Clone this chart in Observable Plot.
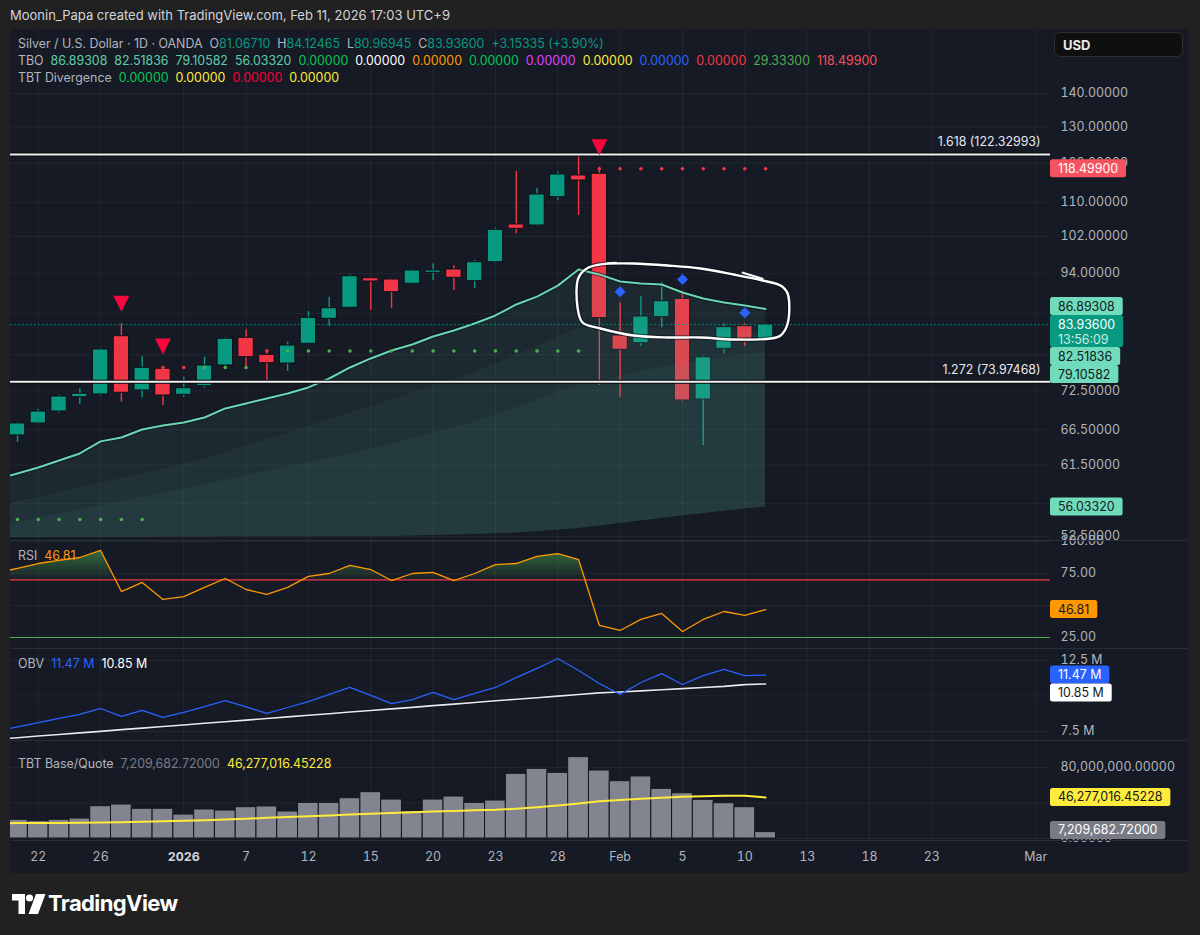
<!DOCTYPE html>
<html>
<head>
<meta charset="utf-8">
<script src="https://cdn.jsdelivr.net/npm/d3@7"></script>
<script src="https://cdn.jsdelivr.net/npm/@observablehq/plot@0.6"></script>
<style>
  html, body { margin:0; padding:0; }
  body { width:1200px; height:935px; background:#212121; position:relative; overflow:hidden; font-family: Inter, "Noto Sans", Roboto, sans-serif; }
  .abs { position:absolute; }
  #frame { left:10px; top:29px; width:1178px; height:844px; background:#161a25; }
  .sep { position:absolute; left:10px; width:1178px; height:1px; background:#2a2e39; }
  .leg { position:absolute; left:18px; font-size:12.4px; line-height:16px; color:#b2b5be; white-space:nowrap; }
  .leg i { font-style:normal; margin-left:7px; }
  .leg i:first-child { margin-left:0; }
  .leg b { font-weight:normal; }
  .pane { position:absolute; left:10px; }
  .pane svg { overflow:visible; display:block; }
</style>
</head>
<body>
<div class="abs" style="left:10px;top:7px;font-size:13px;line-height:16px;color:#d1d4dc;">Moonin_Papa created with TradingView.com, Feb 11, 2026 17:03 UTC+9</div>
<div class="abs" id="frame"></div>
<div class="pane" id="pPrice" style="top:29px"></div>
<div class="pane" id="pRsi" style="top:540px"></div>
<div class="pane" id="pObv" style="top:648px"></div>
<div class="pane" id="pVol" style="top:740px"></div>
<div class="sep" style="top:540px"></div>
<div class="sep" style="top:648px"></div>
<div class="sep" style="top:740px"></div>
<div class="sep" style="top:840px"></div>

<div class="leg" style="top:36px"><i>Silver / U.S. Dollar · 1D · OANDA</i><i>O<b style="color:#089981">81.06710</b></i><i>H<b style="color:#089981">84.12465</b></i><i>L<b style="color:#089981">80.96945</b></i><i>C<b style="color:#089981">83.93600</b></i><i style="color:#089981">+3.15335 (+3.90%)</i></div>
<div class="leg" style="top:53px"><i>TBO</i><i style="color:#5ccfa8">86.89308</i><i style="color:#5ccfa8">82.51836</i><i style="color:#5ccfa8">79.10582</i><i style="color:#5ccfa8">56.03320</i><i style="color:#00c853">0.00000</i><i style="color:#ffffff">0.00000</i><i style="color:#ff9800">0.00000</i><i style="color:#00c853">0.00000</i><i style="color:#e040fb">0.00000</i><i style="color:#ffeb3b">0.00000</i><i style="color:#2962ff">0.00000</i><i style="color:#f23645">0.00000</i><i style="color:#4caf50">29.33300</i><i style="color:#f7525f">118.49900</i></div>
<div class="leg" style="top:70px"><i>TBT Divergence</i><i style="color:#00c853">0.00000</i><i style="color:#ffeb3b">0.00000</i><i style="color:#f7003a">0.00000</i><i style="color:#ffeb3b">0.00000</i></div>
<div class="leg" style="top:548px"><i>RSI</i><i style="color:#ff9800">46.81</i></div>
<div class="leg" style="top:656px"><i>OBV</i><i style="color:#2962ff">11.47 M</i><i style="color:#ffffff">10.85 M</i></div>
<div class="leg" style="top:756px"><i>TBT Base/Quote</i><i style="color:#787b86">7,209,682.72000</i><i style="color:#ffeb3b">46,277,016.45228</i></div>

<div class="abs" style="left:1054px;top:32px;width:129px;height:25px;background:#0f0f0f;border:1px solid #2e2e2e;border-radius:6px;box-sizing:border-box;"></div>
<div class="abs" style="left:1063px;top:37px;font-size:13px;line-height:16px;font-weight:700;color:#e8e8e8;">USD</div>

<div class="abs" style="left:12px;top:893px;">
  <svg width="34" height="22" viewBox="0 0 34 22"><path d="M0 1h13v20H6.5V7.5H0z" fill="#fff"/><circle cx="17.5" cy="5" r="3.6" fill="#fff"/><path d="M24 1h9.5l-7.5 20h-9.5z" fill="#fff"/></svg>
</div>
<div class="abs" style="left:48px;top:889px;font-size:22px;line-height:28px;font-weight:700;color:#ffffff;letter-spacing:-0.6px;">TradingView</div>

<script>
// ---------------- DATA ----------------
const dates = ["2025-12-19","2025-12-22","2025-12-23","2025-12-24","2025-12-26","2025-12-29","2025-12-30","2025-12-31","2026-01-02","2026-01-05","2026-01-06","2026-01-07","2026-01-08","2026-01-09","2026-01-12","2026-01-13","2026-01-14","2026-01-15","2026-01-16","2026-01-19","2026-01-20","2026-01-21","2026-01-22","2026-01-23","2026-01-26","2026-01-27","2026-01-28","2026-01-29","2026-01-30","2026-02-02","2026-02-03","2026-02-04","2026-02-05","2026-02-06","2026-02-09","2026-02-10","2026-02-11"];
const opens  = [65.66,67.43,69.24,71.47,71.90,81.80,72.54,76.11,71.85,73.23,76.67,81.51,78.50,77.00,80.44,85.01,87.11,93.01,92.74,91.86,94.13,94.82,92.40,96.36,104.75,104.52,111.28,116.76,117.20,81.93,80.54,85.32,88.86,71.11,79.55,83.63,81.0671];
const highs  = [67.58,69.55,71.82,72.81,79.60,84.08,78.21,76.50,74.71,78.08,81.50,82.97,79.38,80.72,86.40,89.18,93.71,93.20,92.90,94.80,96.02,95.66,96.73,103.90,117.87,113.52,117.61,121.77,118.90,88.08,89.32,92.19,90.51,78.30,84.08,84.08,84.12465];
const lows   = [64.65,67.30,69.00,70.32,71.70,70.68,71.37,70.17,71.47,72.91,76.40,76.38,73.88,75.65,80.30,83.58,87.00,86.59,86.92,91.70,92.54,90.51,90.85,96.20,102.62,104.30,110.47,106.86,73.35,71.47,80.01,83.34,70.70,64.22,78.68,79.96,80.96945];
const closes = [67.43,69.24,71.58,72.01,79.43,72.17,76.28,71.74,72.91,76.67,81.33,78.08,77.06,80.13,85.20,87.03,93.42,92.33,90.17,94.61,94.61,93.09,96.36,103.53,103.76,111.95,117.02,115.47,85.13,79.38,85.45,88.39,70.95,78.08,83.45,80.78,83.936];

// TBO lines (first value is the lead-in bar just left of the first visible candle)
const tboFast  = [59.6,60.36,61.16,62.12,63.10,64.81,65.37,66.53,67.13,67.57,68.33,69.71,70.48,71.27,72.06,73.03,74.49,76.33,77.87,79.26,80.32,81.75,82.84,84.14,85.64,87.75,89.3,91.5,94.82,93.79,92.33,91.92,91.71,90.12,88.93,88.14,87.56,86.89308];
const tboMed   = [56.03,56.69,57.28,57.88,58.48,59.10,59.71,60.34,60.97,61.61,62.31,63.22,64.14,65.08,66.04,67.01,68.00,68.99,70.00,71.04,72.14,73.25,74.36,75.50,76.92,78.47,80.05,81.66,83.21,83.30,83.39,83.25,83.12,82.98,82.83,82.72,82.60,82.51836];
const tboSlow  = [53.6,54.20,54.71,55.21,55.73,56.23,56.76,57.28,57.81,58.34,58.89,59.46,60.04,60.63,61.23,61.83,62.43,63.04,63.66,64.37,65.17,65.98,66.81,67.64,68.70,69.85,71.01,72.20,73.38,74.11,74.86,75.59,76.35,76.97,77.49,78.02,78.56,79.10582];
const tboVslow = [52.38,52.39,52.40,52.41,52.41,52.42,52.43,52.43,52.44,52.45,52.45,52.46,52.47,52.47,52.48,52.48,52.49,52.50,52.50,52.51,52.57,52.62,52.68,52.73,52.81,52.90,53.05,53.24,53.45,53.75,54.04,54.34,54.63,54.93,55.22,55.52,55.81,56.03320];

// TBO trailing dots
const greenDotSlots  = [0,1,2,3,4,5,6,9,10,11,13,14,15,16,17,18,19,20,21,22,23,24,25,26,27];
const greenDotLevels = [54.52,54.52,54.52,54.52,54.52,54.52,54.52,76.33,76.33,76.33,79.16,79.16,79.16,79.16,79.16,79.16,79.16,79.16,79.16,79.16,79.16,79.16,79.16,79.16,79.16];
const redDotSlots  = [7,8,12,28,29,30,31,32,33,34,35,36];
const redDotLevels = [76.33,76.33,79.16,118.499,118.499,118.499,118.499,118.499,118.499,118.499,118.499,118.499];

// signal markers
const triangleSlots = [5,7,28];
const diamondSlots  = [29,32,35];

// Fibonacci levels
const fibLevels = [122.32993, 73.97468];
const fibLabels = ["1.618 (122.32993)", "1.272 (73.97468)"];

// hand-drawn ellipse (slot, price)
const ellipseSlots  = [28.39,29.64,31.28,32.87,34.46,35.85,36.72,37.06,37.06,36.72,36.24,34.46,32.87,31.28,29.64,28.06,27.19,26.95,27.0,27.48,28.39,28.8];
const ellipsePrices = [96.09,96.09,95.66,95.03,93.77,92.54,91.52,89.91,84.13,81.93,81.39,81.21,81.57,81.57,81.93,83.21,84.32,87.17,93.15,95.24,96.09,96.2];
const hookSlots  = [34.9,35.85];
const hookPrices = [94.15,92.9];

// RSI (lead-in + 37)
const rsiVals = [75.4,79.0,82.8,85.2,87.5,93.0,60.9,68.0,54.7,57.0,64.1,71.1,62.5,58.6,64.1,72.7,75.0,81.3,78.1,69.5,75.0,75.8,69.5,75.0,82.0,82.8,88.3,90.6,85.9,34.4,30.5,39.1,43.8,29.7,39.1,45.3,42.2,46.81];
const rsiUpper = 70, rsiLower = 25;

// OBV in millions (lead-in + 37)
const obvVals = [7.53,7.82,8.13,8.42,8.70,9.12,8.56,8.98,8.49,8.84,9.26,9.68,9.23,8.77,9.19,9.61,10.11,10.60,10.04,9.47,9.75,10.25,9.75,10.18,10.60,11.30,11.94,12.64,11.80,10.88,10.11,10.95,11.58,10.81,11.44,11.87,11.44,11.47];
const obvMA   = [6.95,7.06,7.18,7.29,7.40,7.51,7.63,7.74,7.85,7.96,8.08,8.19,8.30,8.42,8.53,8.64,8.75,8.87,8.98,9.09,9.20,9.32,9.43,9.54,9.66,9.77,9.88,9.99,10.11,10.22,10.28,10.36,10.44,10.52,10.60,10.68,10.80,10.85];

// Base/Quote volume in millions
const volVals = [21.1,19.5,21.1,22.5,36.4,38.3,33.5,33.5,27.0,32.7,31.5,35.3,36.1,30.4,40.2,40.2,45.4,52.2,43.9,30.8,43.9,47.3,40.2,42.8,72.9,78.5,74.0,91.6,76.6,64.6,69.9,56.0,51.0,43.6,39.8,35.3,7.20968272];
const volMA   = [17.1,17.35,17.5,17.6,17.7,18.0,18.25,18.8,19.4,20.0,20.7,21.4,22.2,23.3,24.2,25.1,26.0,27.0,27.9,28.7,29.5,30.3,31.1,31.8,32.3,33.6,35.2,37.2,39.4,41.9,43.4,44.7,45.9,47.0,47.7,48.1,48.1,46.27701645228];

// axes (grid levels; labelled levels are the ones not hidden behind value tags)
const tickSlots  = [1,4,8,11,14,17,20,23,26,29,32,35,38,41,44,49];
const tickLabels = ["22","26","2026","7","12","15","20","23","28","Feb","5","10","13","18","23","Mar"];
const priceGrid  = [140,130,120,110,102,94,86,78.5,72.5,66.5,61.5,56.5,52.5];
const priceTicks = [140,130,120,110,102,94,72.5,66.5,61.5,52.5];
const rsiGrid  = [100,75,50,25];
const rsiTicks = [100,75,25];
const obvGrid  = [12.5,10,7.5];
const obvTicks = [12.5,7.5];
const volGrid  = [80,40,0];
const volTicks = [80,0];

// ---------------- CHART ----------------
const FONT = 'Inter, "Noto Sans", Roboto, sans-serif';
const W = 1178, MR = 138;
const xDomain = [-0.337, 49.71];
const UP = "#089981", DN = "#f23645";
const GRID = {stroke:"#ffffff", strokeOpacity:0.055};
const style = {background:"transparent", color:"#b2b5be", fontSize:"12.4px", fontFamily:FONT, overflow:"visible"};

const candles = dates.map((d,i) => ({slot:i, date:d, open:opens[i], high:highs[i], low:lows[i], close:closes[i], vol:volVals[i]}));
const tbo = tboFast.map((v,k) => ({slot:k-1, fast:v, med:tboMed[k], slow:tboSlow[k], vslow:tboVslow[k]}));
const greenDots = greenDotSlots.map((s,i) => ({slot:s, level:greenDotLevels[i]}));
const redDots = redDotSlots.map((s,i) => ({slot:s, level:redDotLevels[i]}));
const tri = candles.filter(d => triangleSlots.includes(d.slot));
const dia = candles.filter(d => diamondSlots.includes(d.slot));
const ellipse = ellipseSlots.map((s,i) => ({slot:s, price:ellipsePrices[i]}));
const hook = hookSlots.map((s,i) => ({slot:s, price:hookPrices[i]}));
const lastClose = closes[closes.length-1];

const downTri = {draw(ctx, size){ const r = Math.sqrt(size/Math.PI); ctx.moveTo(-r,-r); ctx.lineTo(r,-r); ctx.lineTo(0,r); ctx.closePath(); }};
const rhomb = {draw(ctx, size){ const r = Math.sqrt(size/Math.PI); ctx.moveTo(0,-r); ctx.lineTo(r,0); ctx.lineTo(0,r); ctx.lineTo(-r,0); ctx.closePath(); }};
const candleColor = d => d.close >= d.open ? UP : DN;

const pricePlot = Plot.plot({
  width:W, height:511, marginLeft:0, marginRight:MR, marginTop:0, marginBottom:0, style,
  x:{domain:xDomain, axis:null},
  y:{type:"log", domain:[52.04,161.3]},
  color:{type:"identity"},
  marks:[
    Plot.gridY(priceGrid, GRID),
    Plot.gridX(tickSlots, GRID),
    Plot.axisY(priceTicks, {anchor:"right", tickSize:0, tickPadding:10, tickFormat:d3.format(".5f"), label:null}),
    Plot.ruleX(candles, {x:"slot", y1:"low", y2:"high", stroke:candleColor, strokeWidth:1.4}),
    Plot.rect(candles, {x1:d=>d.slot-0.37, x2:d=>d.slot+0.37, y1:d=>Math.min(d.open,d.close), y2:d=>Math.max(d.open,d.close), fill:candleColor, stroke:"#0c0f16", strokeWidth:1, clip:true}),
    Plot.areaY(tbo, {x:"slot", y1:"vslow", y2:"fast", fill:"#55ad9c", fillOpacity:0.1, clip:true}),
    Plot.areaY(tbo, {x:"slot", y1:"vslow", y2:"med", fill:"#55ad9c", fillOpacity:0.07, clip:true}),
    Plot.areaY(tbo, {x:"slot", y1:"vslow", y2:"slow", fill:"#55ad9c", fillOpacity:0.07, clip:true}),
    Plot.lineY(tbo, {x:"slot", y:"fast", stroke:"#0a0d13", strokeWidth:4, strokeOpacity:0.55, clip:true}),
    Plot.lineY(tbo, {x:"slot", y:"fast", stroke:"#6ad6b4", strokeWidth:2, clip:true}),
    Plot.ruleY([lastClose], {stroke:UP, strokeWidth:1, strokeDasharray:"1.5,2.5"}),
    Plot.ruleY(fibLevels, {stroke:"#07090d", strokeWidth:4}),
    Plot.ruleY(fibLevels, {stroke:"#f0f0f0", strokeWidth:2}),
    Plot.text(fibLevels, {y:d=>d, text:(d,i)=>fibLabels[i], frameAnchor:"right", textAnchor:"end", dx:-10, dy:-12, fill:"#e6e8ee", fontSize:12.4}),
    Plot.dot(greenDots, {x:"slot", y:"level", r:1.8, fill:"#4caf50"}),
    Plot.dot(redDots, {x:"slot", y:"level", r:1.8, fill:"#f23645"}),
    Plot.dot(tri, {x:"slot", y:"high", symbol:downTri, r:8, fill:"#f7073d", dy:-20}),
    Plot.dot(dia, {x:"slot", y:"high", symbol:rhomb, r:5.5, fill:"#2962ff", dy:-11}),
    Plot.line(ellipse, {x:"slot", y:"price", curve:"catmull-rom", stroke:"#0a0d13", strokeWidth:4.5, strokeOpacity:0.6}),
    Plot.line(ellipse, {x:"slot", y:"price", curve:"catmull-rom", stroke:"#ffffff", strokeWidth:2.4}),
    Plot.line(hook, {x:"slot", y:"price", stroke:"#ffffff", strokeWidth:2.2})
  ]
});
document.getElementById("pPrice").appendChild(pricePlot);

// RSI fill polygon with crossing points at the upper band
const rsiPts = rsiVals.map((v,k) => ({slot:k-1, rsi:v}));
const rsiFill = [];
rsiPts.forEach((a,k) => {
  if (k > 0) {
    const b = rsiPts[k-1];
    if ((a.rsi-rsiUpper)*(b.rsi-rsiUpper) < 0) {
      const t = (rsiUpper-b.rsi)/(a.rsi-b.rsi);
      rsiFill.push({slot:b.slot + t*(a.slot-b.slot), top:rsiUpper});
    }
  }
  rsiFill.push({slot:a.slot, top:Math.max(a.rsi, rsiUpper)});
});

const rsiPlot = Plot.plot({
  width:W, height:108, marginLeft:0, marginRight:MR, marginTop:0, marginBottom:0, style,
  x:{domain:xDomain, axis:null},
  y:{domain:[16.4,100.78]},
  marks:[
    Plot.gridY(rsiGrid, GRID),
    Plot.gridX(tickSlots, GRID),
    Plot.axisY(rsiTicks, {anchor:"right", tickSize:0, tickPadding:10, tickFormat:d3.format(".2f"), label:null}),
    Plot.areaY(rsiFill, {x:"slot", y1:rsiUpper, y2:"top", fill:"url(#rsiGrad)", clip:true}),
    Plot.ruleY([rsiUpper], {stroke:"#f23645", strokeWidth:1.2}),
    Plot.ruleY([rsiLower], {stroke:"#4caf50", strokeWidth:1.2}),
    Plot.lineY(rsiPts, {x:"slot", y:"rsi", stroke:"#ff9800", strokeWidth:1.3, clip:true})
  ]
});
document.getElementById("pRsi").appendChild(rsiPlot);
d3.select(rsiPlot).insert("defs", ":first-child").html('<linearGradient id="rsiGrad" x1="0" y1="0" x2="0" y2="1"><stop offset="0" stop-color="#4caf50" stop-opacity="0.55"/><stop offset="1" stop-color="#4caf50" stop-opacity="0.03"/></linearGradient>');

const obvData = obvVals.map((v,k) => ({slot:k-1, obv:v, ma:obvMA[k]}));
const obvPlot = Plot.plot({
  width:W, height:92, marginLeft:0, marginRight:MR, marginTop:0, marginBottom:0, style,
  x:{domain:xDomain, axis:null},
  y:{domain:[6.866,13.345]},
  marks:[
    Plot.gridY(obvGrid, GRID),
    Plot.gridX(tickSlots, GRID),
    Plot.axisY(obvTicks, {anchor:"right", tickSize:0, tickPadding:10, tickFormat:d=>d+" M", label:null}),
    Plot.lineY(obvData, {x:"slot", y:"ma", stroke:"#0a0d13", strokeWidth:3.2, strokeOpacity:0.6, clip:true}),
    Plot.lineY(obvData, {x:"slot", y:"ma", stroke:"#e8eaee", strokeWidth:1.6, clip:true}),
    Plot.lineY(obvData, {x:"slot", y:"obv", stroke:"#2962ff", strokeWidth:1.3, clip:true})
  ]
});
document.getElementById("pObv").appendChild(obvPlot);

const volMAData = volMA.map((v,k) => ({slot:k-1, ma:v}));
const volFmt = d => d3.format(",.5f")(d*1e6);
const volPlot = Plot.plot({
  width:W, height:133, marginLeft:0, marginRight:MR, marginTop:0, marginBottom:33, style,
  x:{domain:xDomain},
  y:{domain:[-2.25,110.4]},
  marks:[
    Plot.gridY(volGrid, GRID),
    Plot.gridX(tickSlots, GRID),
    Plot.axisY(volTicks, {anchor:"right", tickSize:0, tickPadding:10, tickFormat:volFmt, label:null}),
    Plot.axisX(tickSlots, {anchor:"bottom", tickSize:0, tickPadding:12, tickFormat:d=>tickLabels[tickSlots.indexOf(d)], label:null}),
    Plot.rect(candles, {x1:d=>d.slot-0.5, x2:d=>d.slot+0.5, y1:0, y2:"vol", fill:"#82858f", stroke:"#12151c", strokeWidth:1, clip:true}),
    Plot.lineY(volMAData, {x:"slot", y:"ma", stroke:"#ffeb3b", strokeWidth:2, clip:true})
  ]
});
document.getElementById("pVol").appendChild(volPlot);
d3.select(volPlot).selectAll("text").filter(function(){ return this.textContent === "2026"; }).attr("font-weight", "bold").attr("fill", "#d1d4dc");

// ---------------- AXIS VALUE TAGS ----------------
function addBoxes(svg, items, paneH) {
  const ys = svg.scale("y");
  items.forEach(d => { d.h = d.h || 18; d.off = d.off || 9; d.top = ys.apply(d.v) - d.off; });
  const anchor = items[0];
  const sorted = items.slice().sort((a,b) => a.top - b.top);
  const ai = sorted.indexOf(anchor);
  for (let k = ai-1; k >= 0; k--) { const d = sorted[k], nb = sorted[k+1]; if (d.top + d.h > nb.top) d.top = nb.top - d.h; }
  for (let k = ai+1; k < sorted.length; k++) { const d = sorted[k], pb = sorted[k-1]; if (d.top < pb.top + pb.h) d.top = pb.top + pb.h; }
  items.forEach(d => { if (d.top + d.h > paneH - 1) d.top = paneH - 1 - d.h; });
  const g = d3.select(svg).append("g").attr("font-family", FONT).attr("font-size", 12.4).attr("text-anchor", "start");
  items.forEach(d => {
    const grp = g.append("g");
    const rect = grp.append("rect");
    const t = grp.append("text").attr("text-anchor","start").attr("x", W-MR+8).attr("y", d.top+9).attr("dy","0.36em").attr("fill", d.color).text(d.text);
    let w = t.node().getComputedTextLength();
    if (d.text2) {
      const t2 = grp.append("text").attr("text-anchor","start").attr("x", W-MR+8).attr("y", d.top+24).attr("dy","0.36em").attr("fill", d.color2).text(d.text2);
      w = Math.max(w, t2.node().getComputedTextLength());
    }
    rect.attr("x", W-MR).attr("y", d.top).attr("width", w+16).attr("height", d.h).attr("rx", 2.5).attr("fill", d.fill);
  });
}
const f5 = d3.format(".5f");
const MINT = "#70dcbb", DARK = "#131722";
addBoxes(pricePlot, [
  {v:lastClose, text:f5(lastClose), text2:"13:56:09", fill:UP, color:"#ffffff", color2:"#cdeee3", h:32},
  {v:redDotLevels[redDotLevels.length-1], text:f5(redDotLevels[redDotLevels.length-1]), fill:"#f7525f", color:"#ffffff"},
  {v:tboFast[tboFast.length-1], text:f5(tboFast[tboFast.length-1]), fill:MINT, color:DARK},
  {v:tboMed[tboMed.length-1], text:f5(tboMed[tboMed.length-1]), fill:MINT, color:DARK},
  {v:tboSlow[tboSlow.length-1], text:f5(tboSlow[tboSlow.length-1]), fill:MINT, color:DARK},
  {v:tboVslow[tboVslow.length-1], text:f5(tboVslow[tboVslow.length-1]), fill:MINT, color:DARK}
], 511);
addBoxes(rsiPlot, [
  {v:rsiVals[rsiVals.length-1], text:d3.format(".2f")(rsiVals[rsiVals.length-1]), fill:"#ff9800", color:DARK}
], 108);
addBoxes(obvPlot, [
  {v:obvVals[obvVals.length-1], text:obvVals[obvVals.length-1].toFixed(2)+" M", fill:"#2962ff", color:"#ffffff"},
  {v:obvMA[obvMA.length-1], text:obvMA[obvMA.length-1].toFixed(2)+" M", fill:"#ffffff", color:DARK}
], 92);
addBoxes(volPlot, [
  {v:volMA[volMA.length-1], text:volFmt(volMA[volMA.length-1]), fill:"#ffeb3b", color:DARK},
  {v:volVals[volVals.length-1], text:volFmt(volVals[volVals.length-1]), fill:"#787b86", color:"#ffffff"}
], 100);
</script>
</body>
</html>
